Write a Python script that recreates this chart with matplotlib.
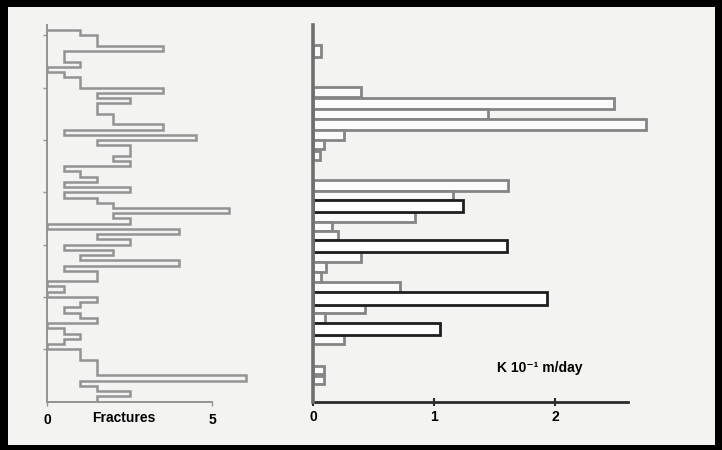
import matplotlib
matplotlib.use("Agg")
import matplotlib.pyplot as plt
from matplotlib.patches import Rectangle

# depth levels (0 = bottom of section), tick every 10 levels
frac_edges = [71, 70, 68, 67, 65, 64, 63, 62, 60, 59, 58, 57, 55, 53, 52, 51, 50, 49, 47, 46,
              45, 44, 43, 42, 41, 40, 39, 38, 37, 36, 35, 34, 33, 32, 31, 30, 29, 28, 27, 26,
              25, 23, 22, 21, 20, 19, 18, 17, 16, 15, 14, 13, 12, 11, 10, 8, 5, 4, 3, 2, 1, 0]
frac_values = [1.0, 1.5, 3.5, 0.5, 1.0, 0, 0.5, 1.0, 3.5, 1.5,
               2.5, 1.5, 2.0, 3.5, 0.5, 4.5, 1.5, 2.5, 2.0, 2.5,
               0.5, 1.0, 1.5, 0.5, 2.5, 0.5, 1.5, 2.0, 5.5, 2.0,
               2.5, 0, 4.0, 1.5, 2.5, 0.5, 2.0, 1.0, 4.0, 0.5,
               1.5, 0, 0.5, 0, 1.5, 1.0, 0.5, 1.0, 1.5, 0,
               0.5, 1.0, 0.5, 0, 1.0, 1.5, 6.0, 1.0, 1.5, 2.5,
               1.5]

# hydraulic conductivity test intervals
k_top = [68.2, 60.2, 58.1, 55.9, 54.0, 52.0, 50.1, 48.0, 42.4, 40.3, 38.5, 36.2, 34.4,
         32.7, 30.9, 28.5, 26.7, 24.8, 22.9, 21.0, 18.5, 16.9, 15.1, 12.7, 6.8, 4.9]
k_bottom = [65.9, 58.3, 55.9, 54.0, 52.0, 50.1, 48.2, 46.1, 40.3, 38.5, 36.2, 34.4, 32.7,
            30.9, 28.5, 26.7, 24.8, 22.9, 21.0, 18.5, 16.9, 15.1, 12.7, 11.0, 5.3, 3.3]
k_values = [0.07, 0.40, 2.49, 1.45, 2.75, 0.26, 0.09, 0.06, 1.61, 1.16, 1.24, 0.84, 0.16,
            0.21, 1.60, 0.40, 0.11, 0.07, 0.72, 1.93, 0.43, 0.10, 1.05, 0.26, 0.09, 0.09]
k_dark = [False, False, False, False, False, False, False, False, False, False, True, False, False,
          False, True, False, False, False, False, True, False, False, True, False, False, False]

W, H = 722, 450
fig = plt.figure(figsize=(W / 100, H / 100), dpi=100)
fig.patch.set_facecolor("black")
fig.add_artist(Rectangle((8 / W, 5 / H), (715 - 8) / W, (443 - 5) / H,
                         transform=fig.transFigure, facecolor="#f3f3f2",
                         edgecolor="none", zorder=0))

font = dict(family=["Liberation Sans", "DejaVu Sans"], weight="bold", size=10)
grey = "#939393"

y0 = 401.5
ytop = 25
# left panel: fractures
axL = fig.add_axes([47 / W, 1 - y0 / H, 7 * 33.1 / W, (y0 - ytop) / H])
axL.patch.set_alpha(0)
edges = frac_edges[::-1]
vals = frac_values[::-1]
axL.stairs(vals, edges, orientation="horizontal", baseline=0, color=grey, lw=1.8)
axL.set_xlim(0, 7)
axL.set_ylim(0, 72)
for s in ["top", "right"]:
    axL.spines[s].set_visible(False)
axL.spines["left"].set_color(grey)
axL.spines["bottom"].set_color(grey)
axL.spines["left"].set_linewidth(1.4)
axL.spines["bottom"].set_linewidth(1.4)
axL.spines["bottom"].set_bounds(0, 5)
axL.set_yticks(range(10, 71, 10))
axL.set_yticklabels([])
axL.set_xticks([0, 5])
axL.set_xticklabels(["0", "5"], **font)
axL.tick_params(axis="y", length=3, width=1, color=grey)
axL.tick_params(axis="x", length=3, width=1, color=grey, pad=5)
fig.text(124 / W, 1 - 418 / H, "Fractures", ha="center", va="center", **font)

# right panel: K
axR = fig.add_axes([313 / W, 1 - y0 / H, 2.8 * 121 / W, (y0 - ytop) / H])
axR.patch.set_alpha(0)
for t, b, v, d in zip(k_top, k_bottom, k_values, k_dark):
    if not d:
        axR.barh(b, v, height=t - b, align="edge", facecolor="#fbfbfb",
                 edgecolor="#858585", lw=2.0, zorder=2)
for t, b, v, d in zip(k_top, k_bottom, k_values, k_dark):
    if d:
        axR.barh(b, v, height=t - b, align="edge", facecolor="#fdfdfd",
                 edgecolor="#1e1e1e", lw=2.0, zorder=3)
axR.set_xlim(0, 2.8)
axR.set_ylim(0, 72)
for s in ["top", "right"]:
    axR.spines[s].set_visible(False)
axR.spines["left"].set_color("#6f6f6f")
axR.spines["left"].set_linewidth(2.6)
axR.spines["left"].set_zorder(4)
axR.spines["bottom"].set_color("#2a2a2a")
axR.spines["bottom"].set_linewidth(2)
axR.spines["bottom"].set_bounds(0, 2.6)
axR.set_yticks([])
axR.set_xticks([0, 1, 2])
axR.set_xticklabels(["0", "1", "2"], **font)
axR.tick_params(axis="x", direction="inout", length=6, width=1.5, color="#2a2a2a", pad=3)
axR.text(1.52, 6.4, "K 10\u207b\u00b9 m/day", ha="left", va="center", **font)

fig.savefig("out.png", dpi=100, facecolor=fig.get_facecolor())
